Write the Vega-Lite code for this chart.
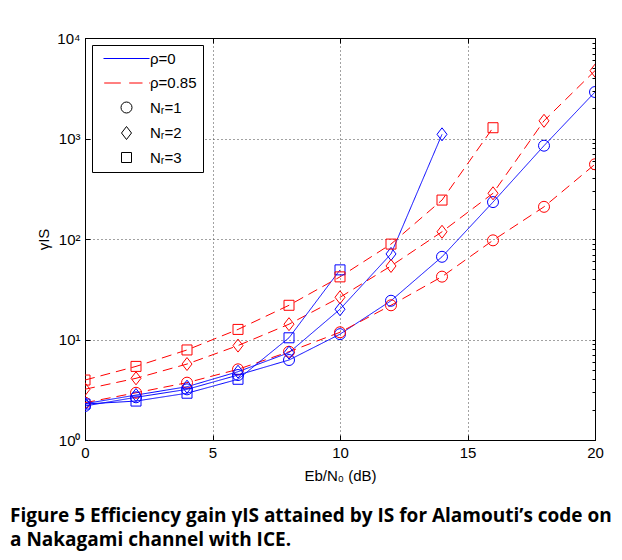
{
 "$schema": "https://vega.github.io/schema/vega-lite/v6.json",
 "width": 510,
 "height": 402,
 "autosize": {"type": "none"},
 "padding": {"left": 85, "top": 38, "right": 27, "bottom": 120},
 "background": "white",
 "title": {
  "text": ["Figure 5 Efficiency gain γIS attained by IS for Alamouti’s code on", "a Nakagami channel with ICE."],
  "orient": "bottom", "anchor": "start", "frame": "group", "dx": -75, "offset": 24,
  "font": "Open Sans", "fontSize": 19, "fontWeight": "bold", "lineHeight": 24, "color": "black"
 },
 "datasets": {
  "curves": [
   {"x": 0, "y": 2.18, "rho": "0", "Nr": "1"},
   {"x": 2, "y": 2.66, "rho": "0", "Nr": "1"},
   {"x": 4, "y": 3.19, "rho": "0", "Nr": "1"},
   {"x": 6, "y": 4.43, "rho": "0", "Nr": "1"},
   {"x": 8, "y": 6.25, "rho": "0", "Nr": "1"},
   {"x": 10, "y": 11.3, "rho": "0", "Nr": "1"},
   {"x": 12, "y": 24.3, "rho": "0", "Nr": "1"},
   {"x": 14, "y": 66.5, "rho": "0", "Nr": "1"},
   {"x": 16, "y": 233, "rho": "0", "Nr": "1"},
   {"x": 18, "y": 848, "rho": "0", "Nr": "1"},
   {"x": 20, "y": 2900, "rho": "0", "Nr": "1"},
   {"x": 0, "y": 2.35, "rho": "0.85", "Nr": "1"},
   {"x": 2, "y": 2.95, "rho": "0.85", "Nr": "1"},
   {"x": 4, "y": 3.72, "rho": "0.85", "Nr": "1"},
   {"x": 6, "y": 5.05, "rho": "0.85", "Nr": "1"},
   {"x": 8, "y": 7.56, "rho": "0.85", "Nr": "1"},
   {"x": 10, "y": 11.8, "rho": "0.85", "Nr": "1"},
   {"x": 12, "y": 21.9, "rho": "0.85", "Nr": "1"},
   {"x": 14, "y": 42.2, "rho": "0.85", "Nr": "1"},
   {"x": 16, "y": 97, "rho": "0.85", "Nr": "1"},
   {"x": 18, "y": 209, "rho": "0.85", "Nr": "1"},
   {"x": 20, "y": 554, "rho": "0.85", "Nr": "1"},
   {"x": 0, "y": 2.3, "rho": "0", "Nr": "2"},
   {"x": 2, "y": 2.8, "rho": "0", "Nr": "2"},
   {"x": 4, "y": 3.39, "rho": "0", "Nr": "2"},
   {"x": 6, "y": 4.78, "rho": "0", "Nr": "2"},
   {"x": 8, "y": 7.4, "rho": "0", "Nr": "2"},
   {"x": 10, "y": 20, "rho": "0", "Nr": "2"},
   {"x": 12, "y": 71, "rho": "0", "Nr": "2"},
   {"x": 14, "y": 1100, "rho": "0", "Nr": "2"},
   {"x": 0, "y": 3.2, "rho": "0.85", "Nr": "2"},
   {"x": 2, "y": 4.11, "rho": "0.85", "Nr": "2"},
   {"x": 4, "y": 5.7, "rho": "0.85", "Nr": "2"},
   {"x": 6, "y": 8.7, "rho": "0.85", "Nr": "2"},
   {"x": 8, "y": 14.2, "rho": "0.85", "Nr": "2"},
   {"x": 10, "y": 26.3, "rho": "0.85", "Nr": "2"},
   {"x": 12, "y": 53.9, "rho": "0.85", "Nr": "2"},
   {"x": 14, "y": 118, "rho": "0.85", "Nr": "2"},
   {"x": 16, "y": 285, "rho": "0.85", "Nr": "2"},
   {"x": 18, "y": 1500, "rho": "0.85", "Nr": "2"},
   {"x": 20, "y": 4730, "rho": "0.85", "Nr": "2"},
   {"x": 0, "y": 2.28, "rho": "0", "Nr": "3"},
   {"x": 2, "y": 2.44, "rho": "0", "Nr": "3"},
   {"x": 4, "y": 2.92, "rho": "0", "Nr": "3"},
   {"x": 6, "y": 4.02, "rho": "0", "Nr": "3"},
   {"x": 8, "y": 10.4, "rho": "0", "Nr": "3"},
   {"x": 10, "y": 49.3, "rho": "0", "Nr": "3"},
   {"x": 0, "y": 3.95, "rho": "0.85", "Nr": "3"},
   {"x": 2, "y": 5.4, "rho": "0.85", "Nr": "3"},
   {"x": 4, "y": 7.87, "rho": "0.85", "Nr": "3"},
   {"x": 6, "y": 12.6, "rho": "0.85", "Nr": "3"},
   {"x": 8, "y": 21.9, "rho": "0.85", "Nr": "3"},
   {"x": 10, "y": 42, "rho": "0.85", "Nr": "3"},
   {"x": 12, "y": 89, "rho": "0.85", "Nr": "3"},
   {"x": 14, "y": 244, "rho": "0.85", "Nr": "3"},
   {"x": 16, "y": 1280, "rho": "0.85", "Nr": "3"}
  ],
  "legendrows": [
   {"leg": "ρ=0"},
   {"leg": "ρ=0.85"},
   {"leg": "Nᵣ=1"},
   {"leg": "Nᵣ=2"},
   {"leg": "Nᵣ=3"}
  ]
 },
 "layer": [
  {
   "data": {"name": "curves"},
   "mark": {"type": "line", "strokeWidth": 1, "clip": true},
   "encoding": {
    "x": {"field": "x", "type": "quantitative",
     "scale": {"domain": [0, 20], "nice": false, "zero": false},
     "axis": {"orient": "bottom", "values": [0, 5, 10, 15, 20], "tickSize": -5, "labelPadding": 10,
      "labelFontSize": 15, "labelFlush": false, "grid": true, "gridDash": [1, 3], "gridColor": "#444444",
      "title": "Eb/N₀ (dB)", "titleFontSize": 15, "titleFontWeight": "normal", "titleY": 40, "titleBaseline": "alphabetic"}},
    "y": {"field": "y", "type": "quantitative",
     "scale": {"type": "log", "domain": [1, 10000], "nice": false},
     "axis": {"orient": "left",
      "values": [1, 10, 100, 1000, 10000],
      "labelExpr": "datum.value==1?'10⁰':datum.value==10?'10¹':datum.value==100?'10²':datum.value==1000?'10³':'10⁴'",
      "labelOverlap": false, "labelFlush": false, "labelFontSize": 15, "labelPadding": 10,
      "tickSize": -5,
      "grid": true, "gridDash": [1, 3], "gridColor": "#444444",
      "title": "γIS", "titleFontSize": 15, "titleFontWeight": "normal", "titleX": -37, "titleY": 201, "titleBaseline": "alphabetic", "titleAlign": "center"}},
    "color": {"field": "rho", "type": "nominal", "scale": {"domain": ["0", "0.85"], "range": ["#0000ff", "#ff0000"]}, "legend": null},
    "strokeDash": {"condition": {"test": "datum.rho=='0.85'", "value": [10, 6]}, "value": [1, 0]},
    "detail": {"field": "Nr", "type": "nominal"},
    "order": {"field": "x", "type": "quantitative"}
   }
  },
  {
   "data": {"name": "curves"},
   "mark": {"type": "point", "filled": false, "size": 100, "strokeWidth": 1, "opacity": 1, "clip": true},
   "encoding": {
    "x": {"field": "x", "type": "quantitative",
     "scale": {"domain": [0, 20], "nice": false, "zero": false},
     "axis": {"orient": "top", "values": [0, 5, 10, 15, 20], "tickSize": -5, "labels": false, "grid": false, "title": null}},
    "y": {"field": "y", "type": "quantitative",
     "scale": {"type": "log", "domain": [1, 10000], "nice": false},
     "axis": {"orient": "right",
      "values": [1,2,3,4,5,6,7,8,9,10,20,30,40,50,60,70,80,90,100,200,300,400,500,600,700,800,900,1000,2000,3000,4000,5000,6000,7000,8000,9000,10000],
      "labels": false, "grid": false, "title": null, "tickSize": -3}},
    "color": {"field": "rho", "type": "nominal", "scale": {"domain": ["0", "0.85"], "range": ["#0000ff", "#ff0000"]}, "legend": null},
    "shape": {"field": "Nr", "type": "nominal",
     "scale": {"domain": ["1", "2", "3"], "range": ["M1.1,0A1.1,1.1,0,1,1,-1.1,0A1.1,1.1,0,1,1,1.1,0Z", "M0,-1.3L1,0L0,1.3L-1,0Z", "M-1,-1H1V1H-1Z"]},
     "legend": null}
   }
  },
  {
   "data": {"name": "legendrows"},
   "mark": {"type": "point", "filled": false, "opacity": 0, "size": 100},
   "encoding": {
    "color": {"field": "leg", "type": "nominal",
     "scale": {"domain": ["ρ=0", "ρ=0.85", "Nᵣ=1", "Nᵣ=2", "Nᵣ=3"], "range": ["#0000ff", "#ff0000", "#000000", "#000000", "#000000"]},
     "legend": {"title": null, "orient": "none", "legendX": 7, "legendY": 7, "padding": 6,
      "fillColor": "white", "strokeColor": "black",
      "symbolSize": 100, "symbolStrokeWidth": 1, "symbolOpacity": 1, "symbolFillColor": "transparent",
      "symbolOffset": 21, "labelOffset": 16, "rowPadding": 8.5,
      "labelFont": "Liberation Sans", "labelFontSize": 15, "labelColor": "black", "labelLimit": 200}},
    "shape": {"field": "leg", "type": "nominal",
     "scale": {"domain": ["ρ=0", "ρ=0.85", "Nᵣ=1", "Nᵣ=2", "Nᵣ=3"],
      "range": ["M-4.6,0H4.6", "M-4.46,0H-1.14M0.54,0H3.2M4.54,0H4.74", "M1.1,0A1.1,1.1,0,1,1,-1.1,0A1.1,1.1,0,1,1,1.1,0Z", "M0,-1.3L1,0L0,1.3L-1,0Z", "M-1,-1H1V1H-1Z"]}}
   }
  }
 ],
 "resolve": {
  "scale": {"color": "independent", "shape": "independent"},
  "axis": {"x": "independent", "y": "independent"}
 },
 "config": {
  "view": {"stroke": "black", "strokeWidth": 1},
  "axis": {"domainColor": "black", "domainWidth": 1, "tickColor": "black", "tickWidth": 1,
   "labelColor": "black", "titleColor": "black", "labelFont": "Liberation Sans", "titleFont": "Liberation Sans"}
 }
}
